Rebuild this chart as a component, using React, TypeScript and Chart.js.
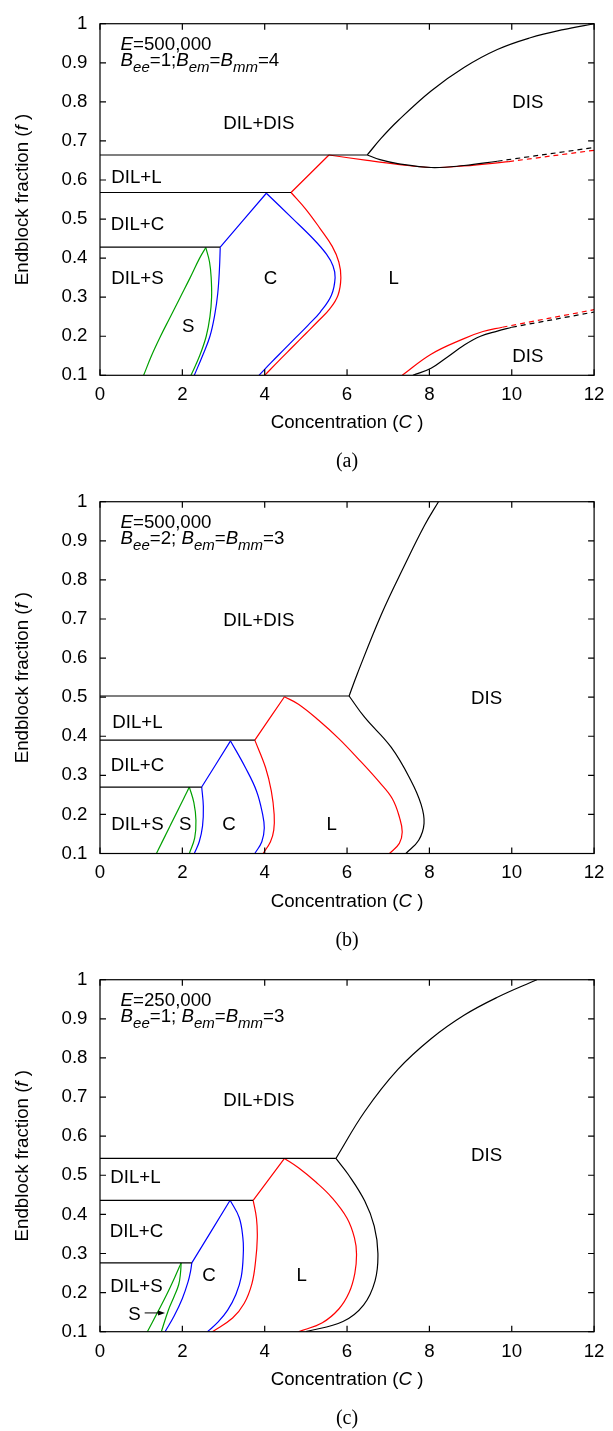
import React, { useEffect, useRef } from 'react';
import { Chart, registerables } from 'chart.js';

Chart.register(...registerables);

const FONT = '"Liberation Sans", Arial, Helvetica, sans-serif';
const SERIF = '"Liberation Serif", "Times New Roman", serif';
const FS = 18.7;
const SUB_FS = 15;
const SUB_DY = 6;
const CAP = 0.358 * FS;

const BLACK = '#000000';
const RED = '#ff0000';
const BLUE = '#0000ff';
const GREEN = '#00a000';

// ---------- axes ----------
const X_TICKS = [0, 2, 4, 6, 8, 10, 12];
const X_TICK_LABELS = ['0', '2', '4', '6', '8', '10', '12'];
const F_TICKS = [0.1, 0.2, 0.3, 0.4, 0.5, 0.6, 0.7, 0.8, 0.9, 1];
const F_TICK_LABELS = ['0.1', '0.2', '0.3', '0.4', '0.5', '0.6', '0.7', '0.8', '0.9', '1'];

// ---------- panel (a) ----------
const A_TIE_F = [0.664, 0.568, 0.428];
const A_TIE_END_C = [6.49, 4.64, 2.92];
const A_S_LEFT_C = [1.06, 1.25, 1.47, 1.71, 1.95, 2.19, 2.42, 2.57];
const A_S_LEFT_F = [0.1, 0.15, 0.2, 0.25, 0.3, 0.35, 0.4, 0.427];
const A_S_RIGHT_C = [2.57, 2.66, 2.7, 2.71, 2.67, 2.58, 2.42, 2.21];
const A_S_RIGHT_F = [0.427, 0.39, 0.35, 0.3, 0.25, 0.2, 0.15, 0.1];
const A_C_LEFT_C = [2.29, 2.49, 2.67, 2.79, 2.86, 2.9, 2.92];
const A_C_LEFT_F = [0.1, 0.15, 0.2, 0.257, 0.31, 0.37, 0.428];
const A_C_TOP_C = [2.92, 4.04];
const A_C_TOP_F = [0.428, 0.566];
const A_C_RIGHT_C = [4.04, 4.66, 5.2, 5.5, 5.66, 5.71, 5.62, 5.35, 5.05, 4.76, 4.46, 4.16, 3.86];
const A_C_RIGHT_F = [0.566, 0.503, 0.447, 0.41, 0.38, 0.35, 0.305, 0.262, 0.228, 0.197, 0.165, 0.133, 0.1];
const A_L_TOP_C = [4.64, 5.56];
const A_L_TOP_F = [0.568, 0.664];
const A_L_RIGHT_C = [4.64, 5.0, 5.35, 5.64, 5.8, 5.85, 5.78, 5.58, 5.3, 5.0, 4.68, 4.34, 4.0];
const A_L_RIGHT_F = [0.568, 0.525, 0.475, 0.43, 0.39, 0.35, 0.305, 0.27, 0.239, 0.207, 0.173, 0.137, 0.1];
const A_L_UPPER_C = [5.56, 6.49, 7.23, 8.04, 8.84, 9.93];
const A_L_UPPER_F = [0.664, 0.65, 0.64, 0.632, 0.636, 0.647];
const A_L_UPPER_EXT_C = [9.93, 12];
const A_L_UPPER_EXT_F = [0.647, 0.676];
const A_L_LOWER_C = [7.34, 8.04, 8.84, 9.3, 9.77];
const A_L_LOWER_F = [0.1, 0.154, 0.194, 0.212, 0.223];
const A_L_LOWER_EXT_C = [9.77, 12];
const A_L_LOWER_EXT_F = [0.223, 0.268];
const A_DIS_UPPER_C = [6.49, 6.83, 7.23, 8.04, 8.84, 9.65, 10.45, 11.25, 12];
const A_DIS_UPPER_F = [0.664, 0.707, 0.751, 0.828, 0.888, 0.934, 0.964, 0.985, 1.0];
const A_DIS_MID_C = [6.49, 6.8, 7.23, 8.04, 8.84, 9.65];
const A_DIS_MID_F = [0.664, 0.652, 0.642, 0.632, 0.637, 0.648];
const A_DIS_MID_EXT_C = [9.65, 12];
const A_DIS_MID_EXT_F = [0.648, 0.683];
const A_DIS_LOWER_C = [7.6, 8.04, 8.44, 8.84, 9.24, 9.65, 10.0];
const A_DIS_LOWER_F = [0.1, 0.118, 0.147, 0.177, 0.2, 0.213, 0.223];
const A_DIS_LOWER_EXT_C = [10.0, 12];
const A_DIS_LOWER_EXT_F = [0.223, 0.262];

// ---------- panel (b) ----------
const B_TIE_F = [0.503, 0.39, 0.27];
const B_TIE_END_C = [6.05, 3.76, 2.47];
const B_S_LEFT_C = [1.37, 1.77, 2.17];
const B_S_LEFT_F = [0.1, 0.185, 0.27];
const B_S_RIGHT_C = [2.17, 2.28, 2.33, 2.3, 2.17];
const B_S_RIGHT_F = [0.27, 0.23, 0.185, 0.14, 0.1];
const B_C_LEFT_C = [2.29, 2.41, 2.49, 2.51, 2.47];
const B_C_LEFT_F = [0.1, 0.13, 0.17, 0.22, 0.27];
const B_C_TOP_C = [2.47, 3.17];
const B_C_TOP_F = [0.27, 0.388];
const B_C_RIGHT_C = [3.17, 3.53, 3.8, 3.95, 3.99, 3.93, 3.76];
const B_C_RIGHT_F = [0.388, 0.32, 0.26, 0.2, 0.165, 0.13, 0.1];
const B_L_TOP_C = [3.76, 4.48];
const B_L_TOP_F = [0.39, 0.501];
const B_L_LEFT_C = [3.76, 4.02, 4.16, 4.23, 4.22, 4.14, 3.96];
const B_L_LEFT_F = [0.39, 0.32, 0.26, 0.2, 0.16, 0.13, 0.1];
const B_L_RIGHT_C = [4.48, 4.82, 5.31, 5.8, 6.3, 6.78, 7.1, 7.28, 7.34, 7.27, 7.03];
const B_L_RIGHT_F = [0.501, 0.482, 0.441, 0.394, 0.339, 0.283, 0.24, 0.19, 0.155, 0.126, 0.1];
const B_DIS_LOWER_C = [6.05, 6.43, 7.07, 7.55, 7.8, 7.87, 7.74, 7.43];
const B_DIS_LOWER_F = [0.503, 0.448, 0.372, 0.287, 0.225, 0.177, 0.134, 0.1];
const B_DIS_UPPER_C = [6.05, 6.25, 6.83, 7.4, 7.88, 8.22];
const B_DIS_UPPER_F = [0.503, 0.56, 0.711, 0.838, 0.939, 1.0];

// ---------- panel (c) ----------
const C_TIE_F = [0.543, 0.436, 0.276];
const C_TIE_END_C = [5.73, 3.72, 2.23];
const C_S_LEFT_C = [1.15, 1.4, 1.62, 1.82, 1.97];
const C_S_LEFT_F = [0.1, 0.15, 0.195, 0.24, 0.276];
const C_S_RIGHT_C = [1.97, 1.955, 1.91, 1.8, 1.66, 1.49];
const C_S_RIGHT_F = [0.276, 0.25, 0.22, 0.19, 0.155, 0.1];
const C_C_LEFT_C = [1.58, 1.8, 2.0, 2.14, 2.2, 2.23];
const C_C_LEFT_F = [0.1, 0.14, 0.185, 0.228, 0.255, 0.276];
const C_C_TOP_C = [2.23, 3.16];
const C_C_TOP_F = [0.276, 0.436];
const C_C_RIGHT_C = [3.16, 3.38, 3.47, 3.48, 3.43, 3.3, 3.1, 2.87, 2.61];
const C_C_RIGHT_F = [0.436, 0.392, 0.34, 0.3, 0.24, 0.195, 0.155, 0.125, 0.1];
const C_L_TOP_C = [3.72, 4.48];
const C_L_TOP_F = [0.436, 0.543];
const C_L_LEFT_C = [3.72, 3.8, 3.82, 3.78, 3.69, 3.5, 3.22, 2.73];
const C_L_LEFT_F = [0.436, 0.39, 0.34, 0.282, 0.223, 0.172, 0.135, 0.1];
const C_L_RIGHT_C = [4.48, 4.82, 5.25, 5.63, 6.0, 6.18, 6.23, 6.19, 6.05, 5.8, 5.4, 4.82];
const C_L_RIGHT_F = [0.543, 0.519, 0.482, 0.443, 0.39, 0.34, 0.299, 0.25, 0.2, 0.158, 0.123, 0.1];
const C_DIS_LOWER_C = [5.73, 6.03, 6.43, 6.66, 6.75, 6.68, 6.4, 5.9, 5.0];
const C_DIS_LOWER_F = [0.543, 0.502, 0.434, 0.37, 0.3, 0.23, 0.168, 0.126, 0.1];
const C_DIS_UPPER_C = [5.73, 6.43, 7.23, 8.04, 8.84, 9.65, 10.61];
const C_DIS_UPPER_F = [0.543, 0.663, 0.77, 0.849, 0.909, 0.955, 1.0];

// ---------- text annotations (data coordinates) ----------
type Lbl = [string, number, number];
const A_LABELS: Lbl[] = [
  ['DIL+DIS', 3.86, 0.748], ['DIS', 10.39, 0.801], ['DIL+L', 0.885, 0.61], ['DIL+C', 0.91, 0.488],
  ['DIL+S', 0.91, 0.35], ['S', 2.14, 0.229], ['C', 4.14, 0.35], ['L', 7.13, 0.35], ['DIS', 10.39, 0.152],
];
const B_LABELS: Lbl[] = [
  ['DIL+DIS', 3.86, 0.698], ['DIS', 9.39, 0.5], ['DIL+L', 0.91, 0.439], ['DIL+C', 0.91, 0.329],
  ['DIL+S', 0.91, 0.178], ['S', 2.07, 0.178], ['C', 3.13, 0.178], ['L', 5.63, 0.177],
];
const C_LABELS: Lbl[] = [
  ['DIL+DIS', 3.86, 0.693], ['DIS', 9.39, 0.553], ['DIL+L', 0.86, 0.498], ['DIL+C', 0.885, 0.358],
  ['DIL+S', 0.885, 0.219], ['C', 2.65, 0.247], ['L', 4.9, 0.247], ['S', 0.84, 0.147],
];
const C_ARROW_C = [1.085, 1.58];
const C_ARROW_F = [0.148, 0.148];

type Run = { t: string; it?: boolean; sub?: boolean };
const NOTE_A1: Run[] = [{ t: 'E', it: true }, { t: '=500,000' }];
const NOTE_A2: Run[] = [
  { t: 'B', it: true }, { t: 'ee', it: true, sub: true }, { t: '=1;' },
  { t: 'B', it: true }, { t: 'em', it: true, sub: true }, { t: '=' },
  { t: 'B', it: true }, { t: 'mm', it: true, sub: true }, { t: '=4' },
];
const NOTE_B1: Run[] = [{ t: 'E', it: true }, { t: '=500,000' }];
const NOTE_B2: Run[] = [
  { t: 'B', it: true }, { t: 'ee', it: true, sub: true }, { t: '=2; ' },
  { t: 'B', it: true }, { t: 'em', it: true, sub: true }, { t: '=' },
  { t: 'B', it: true }, { t: 'mm', it: true, sub: true }, { t: '=3' },
];
const NOTE_C1: Run[] = [{ t: 'E', it: true }, { t: '=250,000' }];
const NOTE_C2: Run[] = [
  { t: 'B', it: true }, { t: 'ee', it: true, sub: true }, { t: '=1; ' },
  { t: 'B', it: true }, { t: 'em', it: true, sub: true }, { t: '=' },
  { t: 'B', it: true }, { t: 'mm', it: true, sub: true }, { t: '=3' },
];
const X_TITLE: Run[] = [{ t: 'Concentration (' }, { t: 'C', it: true }, { t: ' )' }];
const Y_TITLE: Run[] = [{ t: 'Endblock fraction (' }, { t: 'f', it: true }, { t: ' )' }];

// ---------- geometry ----------
const W = 613;
const H = 474;
const Y_AXIS_W = 100;
const PAD_RIGHT = 15.3;

type Curve = { c: number[]; f: number[]; color: string; dash?: boolean };

function ties(fs: number[], ends: number[]): Curve[] {
  return fs.map((f, i) => ({ c: [0, ends[i]], f: [f, f], color: BLACK }));
}

const A_CURVES: Curve[] = [
  ...ties(A_TIE_F, A_TIE_END_C),
  { c: A_DIS_UPPER_C, f: A_DIS_UPPER_F, color: BLACK },
  { c: A_DIS_MID_C, f: A_DIS_MID_F, color: BLACK },
  { c: A_DIS_MID_EXT_C, f: A_DIS_MID_EXT_F, color: BLACK, dash: true },
  { c: A_DIS_LOWER_C, f: A_DIS_LOWER_F, color: BLACK },
  { c: A_DIS_LOWER_EXT_C, f: A_DIS_LOWER_EXT_F, color: BLACK, dash: true },
  { c: A_L_TOP_C, f: A_L_TOP_F, color: RED },
  { c: A_L_RIGHT_C, f: A_L_RIGHT_F, color: RED },
  { c: A_L_UPPER_C, f: A_L_UPPER_F, color: RED },
  { c: A_L_UPPER_EXT_C, f: A_L_UPPER_EXT_F, color: RED, dash: true },
  { c: A_L_LOWER_C, f: A_L_LOWER_F, color: RED },
  { c: A_L_LOWER_EXT_C, f: A_L_LOWER_EXT_F, color: RED, dash: true },
  { c: A_C_LEFT_C, f: A_C_LEFT_F, color: BLUE },
  { c: A_C_TOP_C, f: A_C_TOP_F, color: BLUE },
  { c: A_C_RIGHT_C, f: A_C_RIGHT_F, color: BLUE },
  { c: A_S_LEFT_C, f: A_S_LEFT_F, color: GREEN },
  { c: A_S_RIGHT_C, f: A_S_RIGHT_F, color: GREEN },
];
const B_CURVES: Curve[] = [
  ...ties(B_TIE_F, B_TIE_END_C),
  { c: B_DIS_UPPER_C, f: B_DIS_UPPER_F, color: BLACK },
  { c: B_DIS_LOWER_C, f: B_DIS_LOWER_F, color: BLACK },
  { c: B_L_TOP_C, f: B_L_TOP_F, color: RED },
  { c: B_L_LEFT_C, f: B_L_LEFT_F, color: RED },
  { c: B_L_RIGHT_C, f: B_L_RIGHT_F, color: RED },
  { c: B_C_LEFT_C, f: B_C_LEFT_F, color: BLUE },
  { c: B_C_TOP_C, f: B_C_TOP_F, color: BLUE },
  { c: B_C_RIGHT_C, f: B_C_RIGHT_F, color: BLUE },
  { c: B_S_LEFT_C, f: B_S_LEFT_F, color: GREEN },
  { c: B_S_RIGHT_C, f: B_S_RIGHT_F, color: GREEN },
];
const C_CURVES: Curve[] = [
  ...ties(C_TIE_F, C_TIE_END_C),
  { c: C_DIS_UPPER_C, f: C_DIS_UPPER_F, color: BLACK },
  { c: C_DIS_LOWER_C, f: C_DIS_LOWER_F, color: BLACK },
  { c: C_L_TOP_C, f: C_L_TOP_F, color: RED },
  { c: C_L_LEFT_C, f: C_L_LEFT_F, color: RED },
  { c: C_L_RIGHT_C, f: C_L_RIGHT_F, color: RED },
  { c: C_C_LEFT_C, f: C_C_LEFT_F, color: BLUE },
  { c: C_C_TOP_C, f: C_C_TOP_F, color: BLUE },
  { c: C_C_RIGHT_C, f: C_C_RIGHT_F, color: BLUE },
  { c: C_S_LEFT_C, f: C_S_LEFT_F, color: GREEN },
  { c: C_S_RIGHT_C, f: C_S_RIGHT_F, color: GREEN },
];

type PanelSpec = {
  top: number; padTop: number; plotH: number; curves: Curve[]; labels: Lbl[];
  note1: Run[]; note2: Run[]; tag: string; arrow?: { c: number[]; f: number[] };
};

const PANELS: PanelSpec[] = [
  { top: 0, padTop: 20.7, plotH: 354.6, curves: A_CURVES, labels: A_LABELS, note1: NOTE_A1, note2: NOTE_A2, tag: '(a)' },
  { top: 478, padTop: 21.3, plotH: 354.2, curves: B_CURVES, labels: B_LABELS, note1: NOTE_B1, note2: NOTE_B2, tag: '(b)' },
  { top: 956, padTop: 21.3, plotH: 354.4, curves: C_CURVES, labels: C_LABELS, note1: NOTE_C1, note2: NOTE_C2, tag: '(c)', arrow: { c: C_ARROW_C, f: C_ARROW_F } },
];

function runFont(r: Run) {
  return `${r.it ? 'italic ' : ''}${r.sub ? SUB_FS : FS}px ${FONT}`;
}

function drawRuns(ctx: CanvasRenderingContext2D, runs: Run[], x: number, baseY: number, align: 'left' | 'center') {
  const widths = runs.map((r) => { ctx.font = runFont(r); return ctx.measureText(r.t).width; });
  const total = widths.reduce((a, b) => a + b, 0);
  let cx = align === 'center' ? x - total / 2 : x;
  ctx.textAlign = 'left';
  ctx.textBaseline = 'alphabetic';
  runs.forEach((r, i) => {
    ctx.font = runFont(r);
    ctx.fillText(r.t, cx, r.sub ? baseY + SUB_DY : baseY);
    cx += widths[i];
  });
}

function makePlugin(spec: PanelSpec) {
  return {
    id: 'panelDecor',
    afterDatasetsDraw(chart: any) {
      const { ctx, chartArea: a, scales } = chart;
      const xs = scales.x;
      const ys = scales.y;
      ctx.save();
      ctx.strokeStyle = BLACK;
      ctx.fillStyle = BLACK;
      ctx.lineWidth = 1.2;
      ctx.setLineDash([]);
      ctx.strokeRect(a.left, a.top, a.right - a.left, a.bottom - a.top);
      const TL = 6;
      ctx.beginPath();
      X_TICKS.forEach((v) => {
        const px = xs.getPixelForValue(v);
        ctx.moveTo(px, a.bottom); ctx.lineTo(px, a.bottom - TL);
        ctx.moveTo(px, a.top); ctx.lineTo(px, a.top + TL);
      });
      F_TICKS.forEach((v) => {
        const py = ys.getPixelForValue(v);
        ctx.moveTo(a.left, py); ctx.lineTo(a.left + TL, py);
        ctx.moveTo(a.right, py); ctx.lineTo(a.right - TL, py);
      });
      ctx.stroke();

      spec.labels.forEach(([t, c, f]) => {
        drawRuns(ctx, [{ t }], xs.getPixelForValue(c), ys.getPixelForValue(f) + CAP, 'center');
      });
      const nx = xs.getPixelForValue(0.5);
      drawRuns(ctx, spec.note1, nx, ys.getPixelForValue(0.95) + CAP, 'left');
      drawRuns(ctx, spec.note2, nx, ys.getPixelForValue(0.909) + CAP, 'left');

      if (spec.arrow) {
        const x0 = xs.getPixelForValue(spec.arrow.c[0]);
        const x1 = xs.getPixelForValue(spec.arrow.c[1]);
        const y0 = ys.getPixelForValue(spec.arrow.f[0]);
        ctx.lineWidth = 1;
        ctx.beginPath(); ctx.moveTo(x0, y0); ctx.lineTo(x1 - 4, y0); ctx.stroke();
        ctx.beginPath(); ctx.moveTo(x1, y0); ctx.lineTo(x1 - 7, y0 - 2.5); ctx.lineTo(x1 - 7, y0 + 2.5); ctx.closePath(); ctx.fill();
      }

      const cxPlot = (a.left + a.right) / 2;
      drawRuns(ctx, X_TITLE, cxPlot, a.bottom + 53.1, 'center');
      ctx.save();
      ctx.translate(21.8, (a.top + a.bottom) / 2);
      ctx.rotate(-Math.PI / 2);
      drawRuns(ctx, Y_TITLE, 0, CAP, 'center');
      ctx.restore();

      ctx.font = `20px ${SERIF}`;
      ctx.textAlign = 'center';
      ctx.textBaseline = 'alphabetic';
      ctx.fillText(spec.tag, cxPlot, a.bottom + 92);
      ctx.restore();
    },
  };
}

function buildConfig(spec: PanelSpec): any {
  const datasets = spec.curves.map((cv) => ({
    data: cv.c.map((c, i) => ({ x: c, y: cv.f[i] })),
    showLine: true,
    borderColor: cv.color,
    backgroundColor: cv.color,
    borderWidth: 1.2,
    borderDash: cv.dash ? [5, 4] : [],
    pointRadius: 0,
    tension: 0.4,
    fill: false,
  }));
  const xH = H - spec.padTop - spec.plotH;
  return {
    type: 'scatter',
    data: { datasets },
    options: {
      responsive: false,
      animation: false,
      events: [],
      layout: { padding: { left: 0, right: PAD_RIGHT, top: spec.padTop, bottom: 0 } },
      plugins: { legend: { display: false }, tooltip: { enabled: false } },
      scales: {
        x: {
          type: 'linear', min: 0, max: 12,
          afterBuildTicks: (s: any) => { s.ticks = X_TICKS.map((v) => ({ value: v })); },
          afterFit: (s: any) => { s.height = xH; },
          grid: { display: false, drawTicks: false },
          border: { display: false },
          ticks: {
            color: BLACK, font: { family: FONT, size: FS }, padding: 8.5, maxRotation: 0, autoSkip: false,
            callback: (_v: any, i: number) => X_TICK_LABELS[i],
          },
        },
        y: {
          type: 'linear', min: 0.1, max: 1,
          afterBuildTicks: (s: any) => { s.ticks = F_TICKS.map((v) => ({ value: v })); },
          afterFit: (s: any) => { s.width = Y_AXIS_W; },
          grid: { display: false, drawTicks: false },
          border: { display: false },
          ticks: {
            color: BLACK, font: { family: FONT, size: FS }, padding: 12.5, autoSkip: false,
            callback: (_v: any, i: number) => F_TICK_LABELS[i],
          },
        },
      },
    },
    plugins: [makePlugin(spec)],
  };
}

function Panel({ spec }: { spec: PanelSpec }) {
  const ref = useRef<HTMLCanvasElement>(null);
  useEffect(() => {
    const chart = new Chart(ref.current as HTMLCanvasElement, buildConfig(spec));
    return () => chart.destroy();
  }, [spec]);
  return (
    <canvas
      ref={ref}
      width={W}
      height={H}
      style={{ position: 'absolute', left: 0, top: spec.top, width: W, height: H, display: 'block' }}
    />
  );
}

export default function App() {
  return (
    <div style={{ position: 'absolute', left: 0, top: 0, width: W, height: 1431, background: '#fff', overflow: 'hidden' }}>
      {PANELS.map((p) => (
        <Panel key={p.tag} spec={p} />
      ))}
    </div>
  );
}
